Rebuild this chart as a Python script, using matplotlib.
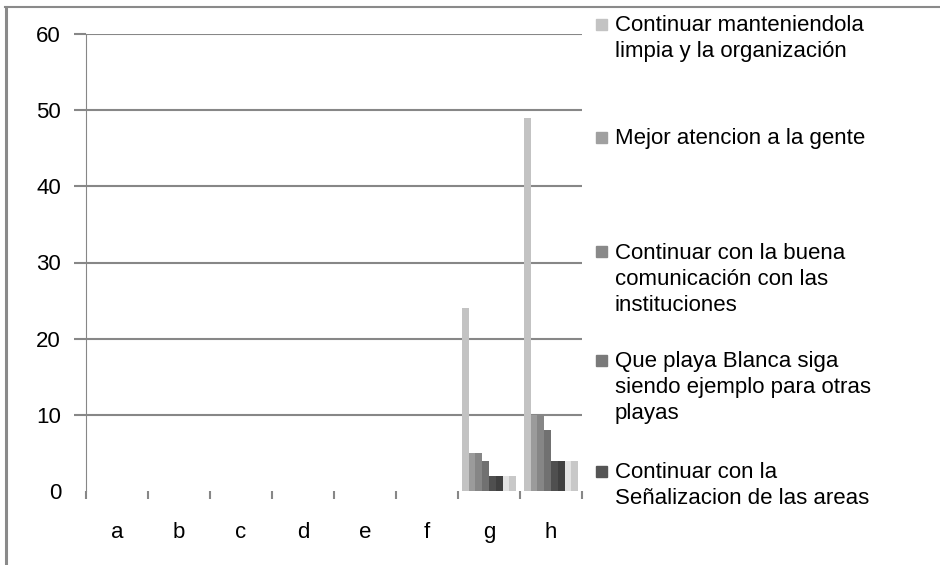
import numpy as np
import matplotlib
matplotlib.use("Agg")
import matplotlib.pyplot as plt
from matplotlib.patches import Rectangle
from matplotlib.lines import Line2D

plt.rcParams['font.family'] = ['Liberation Sans', 'DejaVu Sans']

categories = ['a', 'b', 'c', 'd', 'e', 'f', 'g', 'h']
series_names = [
    'Continuar manteniendola\nlimpia y la organización',
    'Mejor atencion a la gente',
    'Continuar con la buena\ncomunicación con las\ninstituciones',
    'Que playa Blanca siga\nsiendo ejemplo para otras\nplayas',
    'Continuar con la\nSeñalizacion de las areas',
    'Serie 6',
    'Serie 7',
    'Serie 8',
]
s1 = [0, 0, 0, 0, 0, 0, 24, 49]
s2 = [0, 0, 0, 0, 0, 0, 5, 10]
s3 = [0, 0, 0, 0, 0, 0, 5, 10]
s4 = [0, 0, 0, 0, 0, 0, 4, 8]
s5 = [0, 0, 0, 0, 0, 0, 2, 4]
s6 = [0, 0, 0, 0, 0, 0, 2, 4]
s7 = [0, 0, 0, 0, 0, 0, 2, 4]
s8 = [0, 0, 0, 0, 0, 0, 2, 4]
series = [s1, s2, s3, s4, s5, s6, s7, s8]
n_legend = 5  # only five entries fit in the original legend

bar_colors = ['#c3c3c3', '#9b9b9b', '#868686', '#717171',
              '#4f4f4f', '#404040', '#e3e3e3', '#c8c8c8']
legend_colors = ['#c3c3c3', '#a0a0a0', '#898989', '#7a7a7a', '#555555']
grid_c = '#878787'
fs = 16

W, H = 940, 565
fig = plt.figure(figsize=(W / 100, H / 100), dpi=100)
ax = fig.add_axes([86 / W, 1 - 491 / H, (582 - 86) / W, (491 - 34) / H])

x = np.arange(len(categories))
bw = 0.109
for i, vals in enumerate(series):
    ax.bar(x + (i - 3.5) * bw, vals, width=bw, color=bar_colors[i], linewidth=0)

ax.set_xlim(-0.5, len(categories) - 0.5)
ax.set_ylim(0, 60)
ax.set_yticks(range(0, 61, 10))
ax.yaxis.grid(True, color=grid_c, linewidth=1.5)
ax.set_axisbelow(True)
ax.tick_params(axis='y', length=9, width=1.5, color=grid_c, pad=9, labelsize=fs)
ax.get_ygridlines()[0].set_visible(False)
ax.yaxis.get_major_ticks()[0].tick1line.set_visible(False)

ax.set_xticks(x)
ax.set_xticklabels(categories)
ax.set_xticks(np.arange(-0.5, len(categories), 1), minor=True)
ax.tick_params(axis='x', which='major', length=0, pad=22, labelsize=fs)
ax.tick_params(axis='x', which='minor', length=6, width=1.5, color=grid_c)

for side in ['top', 'right', 'bottom']:
    ax.spines[side].set_visible(False)
ax.spines['left'].set_color(grid_c)
ax.spines['left'].set_linewidth(0.8)

# chart frame (cut off at right and bottom in the original)
fig.add_artist(Line2D([6 / W, 6 / W], [1 - 7 / H, 0], color='#8a8a8a', linewidth=2.2))
fig.add_artist(Line2D([5 / W, 1], [1 - 7 / H, 1 - 7 / H], color='#8a8a8a', linewidth=1.5))

# legend drawn by hand, entries spread like the original
entry_y = [24, 137, 252, 360, 471]
for i in range(n_legend):
    yc = entry_y[i]
    fig.add_artist(Rectangle((596 / W, 1 - (yc + 5.5) / H), 11 / W, 11 / H,
                             transform=fig.transFigure, color=legend_colors[i]))
    fig.text(615 / W, 1 - (yc - 9) / H, series_names[i], va='top', ha='left',
             fontsize=fs, linespacing=1.3)

fig.savefig('out.png', dpi=100)
